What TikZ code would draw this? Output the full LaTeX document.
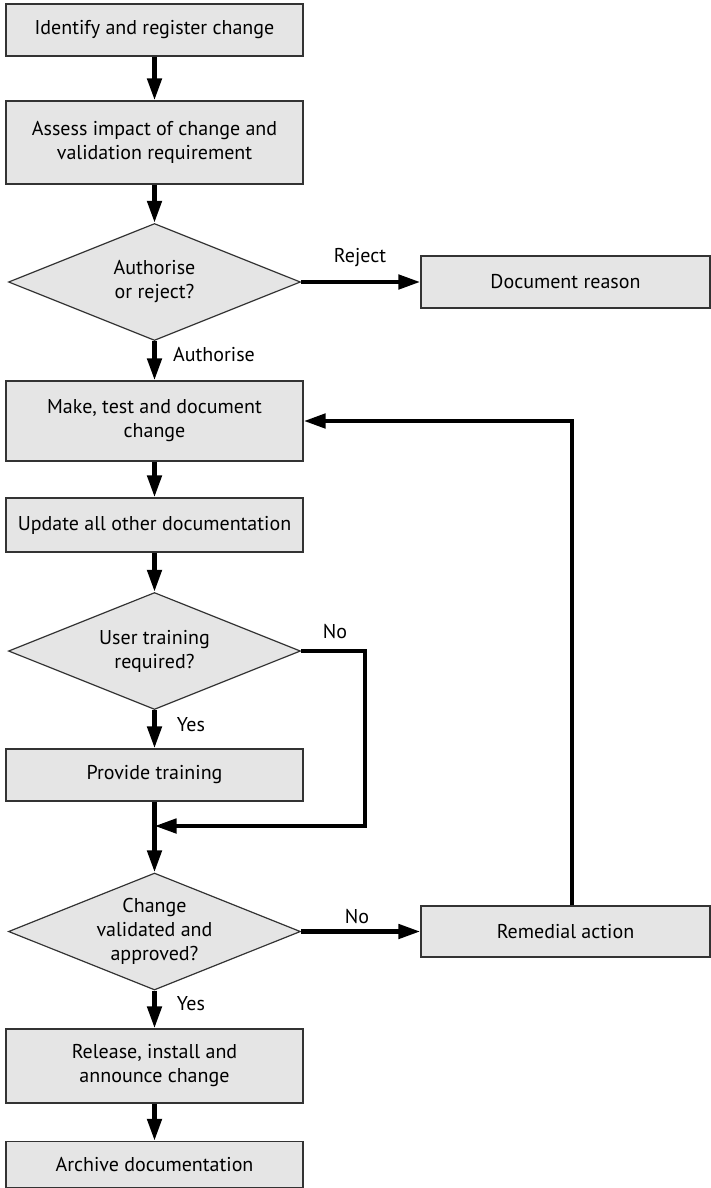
\documentclass[tikz,border=0pt]{standalone}
\usepackage{fontspec}
\setmainfont{PT Sans}
\usetikzlibrary{shapes.geometric,arrows.meta}
\begin{document}
\begin{tikzpicture}[x=0.5pt,y=-0.5pt,
  txt/.style={font=\fontsize{10}{12}\selectfont},
  box/.style={txt,draw=black!80,fill=black!10,line width=0.6pt,minimum width=148.5pt,align=center,inner sep=0pt},
  dec/.style={txt,diamond,draw=black!80,fill=black!10,line width=0.6pt,minimum width=146pt,minimum height=58.5pt,aspect=2.5,inner sep=0pt,align=center},
  arr/.style={line width=2.3pt,-{Triangle[length=11pt,width=7pt]}},
  conn/.style={line width=2.3pt},
  lbl/.style={txt,inner sep=0pt}]
\useasboundingbox (0,0) rectangle (711,1188);
% main column
\node[box,minimum height=26pt] (b1) at (154.5,30) {Identify and register change};
\node[box,minimum height=41.5pt] (b2) at (154.5,142.5) {Assess impact of change and\\validation requirement};
\node[dec] (d1) at (154.5,282) {Authorise\\or reject?};
\node[box,minimum width=144.5pt,minimum height=26pt] (rej) at (565.5,282) {Document reason};
\node[box,minimum height=40pt] (b3) at (154.5,421) {Make, test and document\\change};
\node[box,minimum height=27pt] (b4) at (154.5,525) {Update all other documentation};
\node[dec] (d2) at (154.5,651) {User training\\required?};
\node[box,minimum height=26pt] (b5) at (154.5,775) {Provide training};
\node[dec] (d3) at (154.5,931.5) {Change\\validated and\\approved?};
\node[box,minimum width=144.5pt,minimum height=25.5pt] (rem) at (565.5,931.5) {Remedial action};
\node[box,minimum height=37pt] (b6) at (154.5,1066) {Release, install and\\announce change};
\node[box,minimum height=23pt] (b7) at (154.5,1164.5) {Archive documentation};
% helper coordinates
\coordinate (jn) at (154.5,826);
\coordinate (nocorner) at (365,826);
% connectors
\draw[arr] (b1) -- (b2);
\draw[arr] (b2) -- (d1);
\draw[arr] (d1.east) -- (rej.west);
\draw[arr] (d1) -- (b3);
\draw[arr] (b3) -- (b4);
\draw[arr] (b4) -- (d2);
\draw[arr] (d2) -- (b5);
\draw[conn] (b5.south) -- (jn);
\draw[arr] (jn) -- (d3.north);
\draw[arr] (d2.east) -| (nocorner) -- (jn);
\draw[arr] (d3.east) -- (rem.west);
\draw[arr] ([xshift=3.25pt]rem.north) |- (b3.east);
\draw[arr] (d3) -- (b6);
\draw[arr] (b6) -- (b7);
% labels
\node[lbl] (lrej) at (360,258) {Reject};
\node[lbl] (lauth) at (214,355) {Authorise};
\node[lbl] (lno1) at (335,632) {No};
\node[lbl] (lyes1) at (191,725) {Yes};
\node[lbl] (lno2) at (357,916) {No};
\node[lbl] (lyes2) at (191,1004) {Yes};
\end{tikzpicture}
\end{document}
